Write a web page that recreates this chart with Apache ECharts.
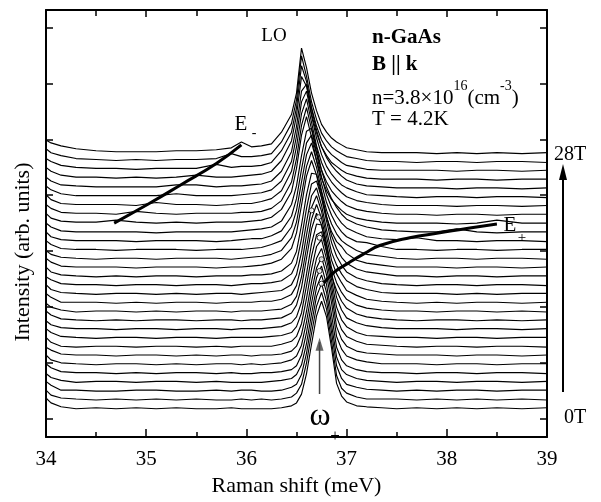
<!DOCTYPE html>
<html><head><meta charset="utf-8">
<script src="https://cdn.jsdelivr.net/npm/echarts@6/dist/echarts.min.js"></script>
<style>html,body{margin:0;padding:0;background:#fff}#c{width:601px;height:502px}</style>
</head><body><div id="c"></div>
<script>
// Raman shift sample positions (meV)
const ramanShift = [34.0,34.05,34.15,34.3,34.5,34.7,34.9,35.1,35.3,35.5,35.7,35.85,35.95,36.05,36.15,36.25,36.35,36.45,36.5,36.55,36.6,36.65,36.7,36.75,36.8,36.85,36.9,36.95,37.0,37.1,37.2,37.35,37.5,37.7,37.9,38.1,38.3,38.5,38.75,39.0];
// vertical offsets of each spectrum (0T bottom -> 28T top), arb. units
const offsets = [29,38,47,56,65,74,83,92,101,110,119,128,137,146,155,164,173,182,191,200,209,218,227,236,245,254,263,272,281,290];
// spectra intensities (arb. units, above each spectrum's own baseline)
const s00 = [11,6,2,0,1,0,1,0,1,0,0,1,0, 0,0,0,1,3,6,15,36,66,95,110,94,62,26,13,7,3,2,1,0, 1,0,1,0,1,0,1];
const s01 = [10,5,2,1,0,1,0,1,0,1,0,0,1, 0,1,0,1,3,7,16,38,68,96,110,93,60,25,12,7,3,1,1,1, 0,1,0,1,0,1,0];
const s02 = [10,6,1,1,0,0,1,1,0,0,1,0,1, 1,0,0,1,4,7,17,39,69,97,110,92,60,26,13,7,4,2,1,0, 1,0,1,1,0,1,1];
const s03 = [9,5,2,0,1,1,0,1,1,0,1,0,0, 0,0,1,2,4,8,18,40,70,97,110,92,59,26,13,8,4,2,1,0, 1,1,0,1,1,0,1];
const s04 = [10,6,2,1,1,0,1,0,1,1,0,1,0, 0,1,1,2,4,8,19,42,72,98,110,91,60,27,14,8,4,2,1,1, 0,1,1,0,1,1,0];
const s05 = [10,5,2,1,0,1,1,0,1,0,1,1,0, 1,0,1,2,5,9,20,44,74,99,110,92,63,29,16,9,5,3,1,1, 1,0,1,1,0,1,1];
const s06 = [9,6,2,1,1,0,1,1,0,1,0,1,1, 0,1,1,2,5,10,22,46,76,100,110,91,63,30,17,10,5,3,2,1, 1,1,0,1,1,0,1];
const s07 = [10,5,1,0,1,1,0,1,1,0,1,0,1, 1,1,1,3,6,11,24,50,80,103,110,90,62,31,18,11,6,3,2,1, 0,1,1,0,1,1,0];
const s08 = [10,6,2,1,0,1,1,0,1,1,0,1,1, 1,1,2,3,6,12,26,54,84,106,109,88,60,32,19,12,6,3,2,1, 1,0,1,1,0,1,1];
const s09 = [9,5,2,1,1,0,1,1,0,1,1,0,1, 1,1,2,3,7,13,28,57,88,108,107,86,58,33,20,12,7,4,2,1, 1,1,0,1,1,0,1];
const s10 = [10,6,2,1,0,1,0,1,1,0,1,1,0, 1,1,2,3,8,16,34,64,94,110,98,72,46,31,20,13,7,4,2,1, 0,1,1,0,1,0,1];
const s11 = [9,5,2,0,1,1,0,1,0,1,1,0,1, 1,1,2,3,8,16,36,66,95,110,96,70,45,30,20,13,7,4,2,1, 1,0,1,1,0,1,0];
const s12 = [10,6,1,1,1,0,1,0,1,1,0,1,1, 1,2,2,4,9,18,39,70,98,110,94,68,44,30,21,13,8,4,2,1, 0,1,0,1,1,0,1];
const s13 = [10,5,2,1,0,1,1,0,1,0,1,1,0, 1,2,3,4,10,20,43,74,101,109,91,66,43,30,21,14,8,5,2,1, 1,1,0,1,0,1,1];
const s14 = [9,6,2,1,1,0,1,1,0,1,1,0,1, 2,2,3,5,12,23,48,79,104,107,90,66,44,30,21,14,8,5,2,1, 0,1,1,0,1,1,0];
const s15 = [10,5,2,1,0,1,0,1,1,0,1,1,1, 2,2,3,6,14,26,53,84,106,105,86,62,42,29,20,14,8,5,3,1, 1,0,1,1,0,1,1];
const s16 = [10,6,2,1,1,1,0,1,1,1,0,1,1, 2,3,5,9,20,36,64,94,110,95,72,52,37,27,22,15,8,5,3,1, 1,1,0,1,1,0,1];
const s17 = [9,5,2,1,0,1,1,0,1,1,1,0,1, 2,3,5,9,22,38,66,95,110,94,70,50,36,26,19,15,9,5,3,1, 0,1,1,0,1,1,0];
const s18 = [10,6,2,1,1,0,1,1,1,0,1,1,1, 2,3,6,10,24,41,70,98,110,92,68,49,36,26,19,14,9,8,4,1, 1,0,1,1,0,1,1];
const s19 = [10,5,2,1,1,1,0,1,1,1,0,1,2, 3,3,6,11,26,44,74,101,109,90,66,48,35,26,19,14,9,5,3,2, 4,1,1,0,1,1,0];
const s20 = [10,6,2,1,1,1,1,0,1,1,1,1,2, 3,4,6,12,29,48,79,104,107,87,64,47,35,26,19,14,9,6,3,2, 1,1,4,1,0,1,1];
const s21 = [11,6,3,2,2,4,2,1,2,1,2,2,2, 3,4,7,15,33,57,91,110,89,65,47,34,25,19,14,10,6,4,2,1, 1,1,0,1,4,1,1];
const s22 = [11,7,3,2,2,1,4,2,1,2,2,2,3, 3,4,7,15,34,58,92,110,88,64,46,34,25,19,14,10,6,4,2,1, 1,0,1,1,0,1,1];
const s23 = [12,7,3,2,2,2,1,4,2,2,1,2,3, 3,5,8,16,36,61,95,110,86,62,45,33,25,19,14,10,6,4,2,1, 1,1,0,1,1,0,1];
const s24 = [12,8,4,2,2,2,2,2,4,2,2,2,3, 4,5,8,17,37,63,98,109,84,61,44,32,24,18,13,10,6,3,2,1, 0,1,1,0,1,1,0];
const s25 = [12,8,4,3,2,2,2,2,4,4,2,3,3, 4,5,8,18,38,64,100,107,82,60,43,32,24,18,13,9,5,3,2,1, 1,1,0,1,1,0,1];
const s26 = [13,9,5,3,3,2,3,2,3,5,3,3,4, 5,6,9,20,40,66,106,96,68,48,34,25,18,14,10,7,4,2,1,1, 1,0,1,1,0,1,1];
const s27 = [13,10,6,4,3,3,2,3,3,3,7,4,5, 5,6,9,21,40,65,108,92,65,46,32,23,17,13,9,6,4,2,1,1, 1,1,0,1,1,0,1];
const s28 = [14,10,7,4,3,2,3,2,3,3,4,9,6, 6,7,9,21,40,64,109,88,62,44,30,22,16,12,9,6,4,2,1,1, 0,1,1,0,1,1,0];
const s29 = [14,11,8,5,3,2,2,2,3,3,4,6,12, 7,8,10,22,40,62,108,88,62,44,30,22,16,12,9,6,4,2,1,1, 1,0,1,0,1,0,1];
const spectra = [s00,s01,s02,s03,s04,s05,s06,s07,s08,s09,s10,s11,s12,s13,s14,s15,s16,s17,s18,s19,s20,s21,s22,s23,s24,s25,s26,s27,s28,s29];
// guide curves and marks
const eMinusCurve = [[34.68,219],[35.03,239],[35.36,259],[35.70,280],[35.95,299]];
const ePlusCurve = [[36.75,155],[36.88,169],[37.0,177],[37.18,188],[37.33,196],[37.63,204],[37.93,209],[38.23,214],[38.5,218]];
const ePlusMarks = [[36.65,232],[36.72,225],[36.73,204],[36.75,182],[36.73,170],[36.75,157]];
const omegaArrow = [[36.73,44],[36.73,97]];
const omegaArrowTip = [[36.73,99]];
// axis tick labels / ticks
const xTickLabels = [34,35,36,37,38,39];
const yTickValues = [19,76.14,133.29,190.43,247.57,304.71,361.86,419];

const FONT = '"Liberation Serif", "Times New Roman", serif';
const chart = echarts.init(document.getElementById('c'), null, {renderer:'canvas'});

const series = spectra.map((rel, i) => ({
  type: 'line', name: 'spectrum ' + (i + 1),
  data: ramanShift.map((x, k) => [x, offsets[i] + rel[k]]),
  symbol: 'none', showSymbol: false, silent: true, z: 2,
  lineStyle: {color: '#000', width: 1.15}
}));
series.push({type:'line', name:'E-', data: eMinusCurve, smooth: true, symbol:'none', silent:true, z:5, lineStyle:{color:'#000', width:3}});
series.push({type:'line', name:'E+', data: ePlusCurve, smooth: true, symbol:'none', silent:true, z:5, lineStyle:{color:'#000', width:3}});
series.push({type:'scatter', name:'E+ points', data: ePlusMarks, symbol:'circle', symbolSize:5, silent:true, z:6,
  itemStyle:{color:'#fff', borderColor:'#000', borderWidth:1}});
series.push({type:'line', name:'omega arrow', data: omegaArrow, symbol:'none', silent:true, z:6,
  lineStyle:{color:'#444', width:1.5}});
series.push({type:'scatter', name:'omega arrow tip', data: omegaArrowTip, symbol:'triangle', symbolSize:[8,13],
  symbolOffset:[0,4], silent:true, z:6, itemStyle:{color:'#444'}});

const txt = (text, x, y, size, opts) => Object.assign({
  type:'text', x: x, y: y, z: 100,
  style: Object.assign({text: text, fill:'#000', font: size + 'px ' + FONT,
    align:'center', verticalAlign:'middle', textAlign:'center', textVerticalAlign:'middle'}, (opts && opts.style) || {})
}, (opts && opts.el) || {});

const option = {
  animation: false,
  backgroundColor: '#fff',
  grid: {left: 46, top: 10, width: 501, height: 437, containLabel: false},
  xAxis: [{
    type:'value', min:34, max:39, interval:1, position:'bottom',
    name:'Raman shift (meV)', nameLocation:'middle', nameGap:34,
    nameTextStyle:{fontFamily: FONT, fontSize:22, color:'#000'},
    axisLine:{show:true, onZero:false, lineStyle:{color:'#000', width:2}},
    axisTick:{show:true, inside:true, length:8, lineStyle:{color:'#000', width:1.5}},
    minorTick:{show:true, splitNumber:2, length:5, lineStyle:{color:'#000', width:1.5}},
    axisLabel:{show:true, margin:12, fontFamily: FONT, fontSize:21, color:'#000',
      formatter: v => xTickLabels.indexOf(Math.round(v)) >= 0 ? String(Math.round(v)) : ''},
    splitLine:{show:false}
  },{
    type:'value', min:34, max:39, interval:1, position:'top',
    axisLine:{show:true, onZero:false, lineStyle:{color:'#000', width:2}},
    axisTick:{show:true, inside:true, length:7, lineStyle:{color:'#000', width:1.5}},
    minorTick:{show:true, splitNumber:2, length:6, lineStyle:{color:'#000', width:1.5}},
    axisLabel:{show:false}, splitLine:{show:false}
  }],
  yAxis: [{
    type:'value', min:0, max:437, position:'left',
    axisLine:{show:true, onZero:false, lineStyle:{color:'#000', width:2}},
    axisTick:{show:true, inside:true, length:7, customValues: yTickValues, lineStyle:{color:'#000', width:1.5}},
    axisLabel:{show:false}, splitLine:{show:false}
  },{
    type:'value', min:0, max:437, position:'right',
    axisLine:{show:true, onZero:false, lineStyle:{color:'#000', width:2}},
    axisTick:{show:true, inside:true, length:7, customValues: yTickValues, lineStyle:{color:'#000', width:1.5}},
    axisLabel:{show:false}, splitLine:{show:false}
  }],
  series: series,
  graphic: [
    txt('Intensity (arb. units)', 23, 252, 22, {el:{rotation: Math.PI/2}}),
    txt('LO', 274, 36, 19),
    txt('n-GaAs', 372, 38, 21, {style:{align:'left', textAlign:'left', font:'bold 21px ' + FONT}}),
    txt('B || k', 372, 65, 21, {style:{align:'left', textAlign:'left', font:'bold 21px ' + FONT}}),
    {type:'text', x:372, y:94, z:100, style:{
      text:'{a|n=3.8×10}{s|16}{a|(cm}{s|-3}{a|)}',
      align:'left', textAlign:'left', verticalAlign:'middle', textVerticalAlign:'middle', fill:'#000',
      rich:{a:{fontFamily: FONT, fontSize:21, lineHeight:30, verticalAlign:'bottom', fill:'#000', color:'#000'},
            s:{fontFamily: FONT, fontSize:14, lineHeight:30, verticalAlign:'top', fill:'#000', color:'#000'}}}},
    txt('T = 4.2K', 372, 119, 21, {style:{align:'left', textAlign:'left'}}),
    txt('E', 241, 124, 21),
    txt('-', 254, 133, 14),
    txt('E', 510, 225, 21),
    txt('+', 522, 238, 15),
    txt('ω', 320, 417, 32),
    txt('+', 335, 437, 17),
    txt('28T', 570, 155, 20),
    txt('0T', 575, 418, 20),
    {type:'line', z:100, shape:{x1:563, y1:392, x2:563, y2:176}, style:{stroke:'#000', lineWidth:2}},
    {type:'polygon', z:100, shape:{points:[[559,180],[567,180],[563,164]]}, style:{fill:'#000'}}
  ]
};
chart.setOption(option);
</script>
</body></html>
